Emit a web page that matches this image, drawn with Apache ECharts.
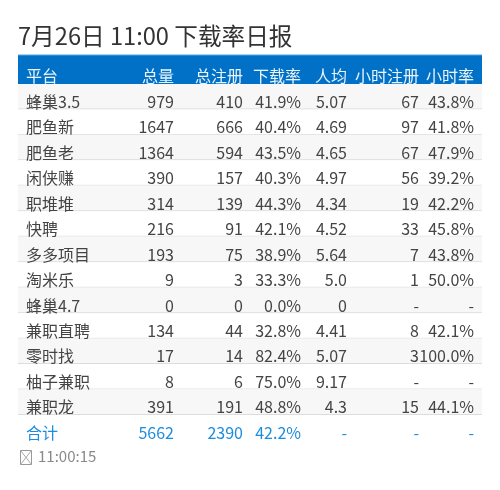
<!DOCTYPE html>
<html>
<head>
<meta charset="utf-8">
<style>html,body{margin:0;padding:0;background:#fff}#main{width:500px;height:490px}</style>
<script src="https://cdn.jsdelivr.net/npm/echarts@6/dist/echarts.min.js"></script>
</head>
<body>
<div id="main"></div>
<script>
var titleText = '7月26日 11:00 下载率日报';
var timeText = '11:00:15';
var headers = ['平台', '总量', '总注册', '下载率', '人均', '小时注册', '小时率'];
var platforms = ['蜂巢3.5', '肥鱼新', '肥鱼老', '闲侠赚', '职堆堆', '快聘', '多多项目', '淘米乐', '蜂巢4.7', '兼职直聘', '零时找', '柚子兼职', '兼职龙', '合计'];
var totals = [979, 1647, 1364, 390, 314, 216, 193, 9, 0, 134, 17, 8, 391, 5662];
var registers = [410, 666, 594, 157, 139, 91, 75, 3, 0, 44, 14, 6, 191, 2390];
var downRates = ['41.9%', '40.4%', '43.5%', '40.3%', '44.3%', '42.1%', '38.9%', '33.3%', '0.0%', '32.8%', '82.4%', '75.0%', '48.8%', '42.2%'];
var averages = ['5.07', '4.69', '4.65', '4.97', '4.34', '4.52', '5.64', '5.0', '0', '4.41', '5.07', '9.17', '4.3', '-'];
var hourRegs = ['67', '97', '67', '56', '19', '33', '7', '1', '-', '8', '3', '-', '15', '-'];
var hourRates = ['43.8%', '41.8%', '47.9%', '39.2%', '42.2%', '45.8%', '43.8%', '50.0%', '-', '42.1%', '100.0%', '-', '44.1%', '-'];

var columns = [platforms, totals, registers, downRates, averages, hourRegs, hourRates];
var colX = [26, 174, 243, 301, 347, 419, 474]; // 列的文字位置，第一列左对齐，其余右对齐
var fontName = '"Noto Sans CJK SC", "Noto Sans", sans-serif';

var myChart = echarts.init(document.getElementById('main'));

var rowNames = ['header'].concat(platforms);
var bandData = rowNames.map(function (n, i) { return [0, i]; });
var cellData = [];
headers.forEach(function (h, c) { cellData.push([colX[c], 0, h, c]); });
columns.forEach(function (col, c) {
    col.forEach(function (v, r) { cellData.push([colX[c], r + 1, String(v), c]); });
});

function renderBand(params, api) {
    var row = api.value(1);
    if (row === rowNames.length - 1) return null; // 合计行没有底色
    var p = api.coord([18, row]);
    var end = api.coord([482, row]);
    var h = api.size([0, 1])[1];
    var top = p[1] - h / 2;
    var w = end[0] - p[0];
    if (row === 0) {
        return {
            type: 'group',
            children: [
                { type: 'rect', shape: { x: p[0], y: top - 3.5, width: w, height: h + 3.5 }, style: { fill: '#0071c7' } },
                { type: 'rect', shape: { x: p[0], y: top - 4, width: w, height: 1 }, style: { fill: '#5aa5dd' } }
            ]
        };
    }
    return {
        type: 'group',
        children: [
            { type: 'rect', shape: { x: p[0], y: top, width: w, height: h }, style: { fill: row % 2 ? '#f7f7f7' : '#ffffff' } },
            { type: 'rect', shape: { x: p[0], y: top + h - 1, width: w, height: 1 }, style: { fill: row % 2 ? '#dcdcdc' : '#e4e4e4' } }
        ]
    };
}

function renderCell(params, api) {
    var p = api.coord([api.value(0), api.value(1)]);
    var row = api.value(1);
    var color = row === 0 ? '#eaf4fb' : (row === rowNames.length - 1 ? '#1b8ddf' : '#444444');
    return {
        type: 'text',
        style: {
            x: p[0],
            y: p[1] + 5,
            text: api.value(2),
            fill: color,
            font: '16px ' + fontName,
            align: api.value(3) === 0 ? 'left' : 'right',
            verticalAlign: 'middle'
        }
    };
}

var option = {
    animation: false,
    backgroundColor: '#fff',
    title: {
        text: titleText,
        left: 18,
        top: 24,
        padding: 0,
        textStyle: { fontFamily: fontName, fontSize: 23.65, fontWeight: 'normal', color: '#333' }
    },
    grid: { left: 0, right: 0, top: 58.5, height: 382 },
    xAxis: { type: 'value', min: 0, max: 500, show: false },
    yAxis: { type: 'category', data: rowNames, inverse: true, show: false },
    series: [
        { type: 'custom', renderItem: renderBand, data: bandData, silent: true, clip: false, z: 1 },
        { type: 'custom', renderItem: renderCell, data: cellData, silent: true, clip: false, z: 2,
          dimensions: ['x', 'row', { name: 'text', type: 'ordinal' }, 'col'] }
    ],
    graphic: [
        { type: 'rect', shape: { x: 20.5, y: 450.5, width: 11, height: 14 }, style: { fill: 'none', stroke: '#999', lineWidth: 1 } },
        { type: 'line', shape: { x1: 20.5, y1: 450.5, x2: 31.5, y2: 464.5 }, style: { stroke: '#aaa', lineWidth: 1 } },
        { type: 'line', shape: { x1: 31.5, y1: 450.5, x2: 20.5, y2: 464.5 }, style: { stroke: '#aaa', lineWidth: 1 } },
        { type: 'text', x: 38, y: 449, style: { text: timeText, fill: '#888', font: '15px ' + fontName } }
    ]
};
myChart.setOption(option);
</script>
</body>
</html>
